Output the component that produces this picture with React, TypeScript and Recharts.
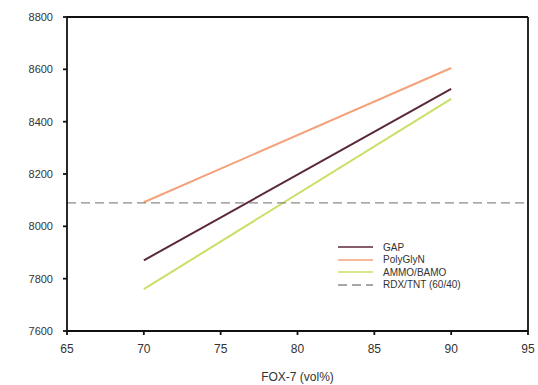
import React from 'react';
import { LineChart, Line, XAxis, YAxis, ReferenceLine } from 'recharts';

const xTicks = [65, 70, 75, 80, 85, 90, 95];
const yTicks = [7600, 7800, 8000, 8200, 8400, 8600, 8800];

const gapData = [
  { x: 70, y: 7870 },
  { x: 90, y: 8525 },
];
const polyGlyNData = [
  { x: 70, y: 8092 },
  { x: 90, y: 8605 },
];
const ammoBamoData = [
  { x: 70, y: 7760 },
  { x: 90, y: 8487 },
];
const rdxTntData = [
  { x: 65, y: 8090 },
  { x: 95, y: 8090 },
];

const series = [
  { name: 'GAP', data: gapData, color: '#5b2838', dash: undefined as string | undefined },
  { name: 'PolyGlyN', data: polyGlyNData, color: '#f4a27a', dash: undefined },
  { name: 'AMMO/BAMO', data: ammoBamoData, color: '#c9e066', dash: undefined },
  { name: 'RDX/TNT (60/40)', data: rdxTntData, color: '#8a8a8a', dash: '9 5' },
];

const font = '"Liberation Sans", Arial, sans-serif';

const LegendBox = () => (
  <div style={{ position: 'absolute', left: 338, top: 241, fontFamily: font, fontSize: 10, color: '#333' }}>
    {series.map((s) => (
      <div key={s.name} style={{ display: 'flex', alignItems: 'center', height: 12.5 }}>
        <svg width={35} height={6} style={{ marginRight: 10 }}>
          <line x1={0} y1={3} x2={35} y2={3} stroke={s.color} strokeWidth={1.5} strokeDasharray={s.dash} />
        </svg>
        <span>{s.name}</span>
      </div>
    ))}
  </div>
);

export default function App() {
  return (
    <div style={{ position: 'absolute', left: 0, top: 0, width: 538, height: 385, background: '#fff' }}>
      <LineChart width={538} height={385} margin={{ top: 17, right: 10, bottom: 24, left: 12 }}>
        <XAxis
          type="number"
          dataKey="x"
          domain={[65, 95]}
          ticks={xTicks}
          allowDataOverflow
          height={30}
          stroke="#111"
          strokeWidth={1.8}
          tickSize={4}
          tickMargin={9}
          tick={{ fill: '#333', fontSize: 12, fontFamily: font }}
          label={{ value: 'FOX-7 (vol%)', position: 'insideBottom', offset: -20, fill: '#333', fontSize: 12, fontFamily: font }}
        />
        <YAxis
          type="number"
          dataKey="y"
          domain={[7600, 8800]}
          ticks={yTicks}
          allowDataOverflow
          width={55}
          stroke="#111"
          strokeWidth={1.8}
          tickSize={4}
          tickMargin={10}
          tick={{ fill: '#333', fontSize: 11, fontFamily: font }}
        />
        <ReferenceLine y={8800} stroke="#111" strokeWidth={1.8} />
        <ReferenceLine x={95} stroke="#111" strokeWidth={1.8} />
        {series.map((s) => (
          <Line
            key={s.name}
            data={s.data}
            dataKey="y"
            name={s.name}
            stroke={s.color}
            strokeWidth={s.dash ? 1.3 : 2}
            strokeDasharray={s.dash}
            dot={false}
            activeDot={false}
            isAnimationActive={false}
          />
        ))}
      </LineChart>
      <LegendBox />
    </div>
  );
}
